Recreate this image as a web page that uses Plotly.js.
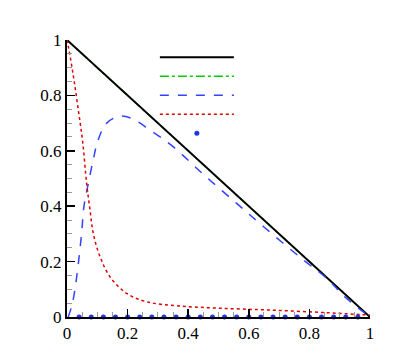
<!DOCTYPE html>
<html>
<head>
<meta charset="utf-8">
<script src="https://cdn.plot.ly/plotly-3.0.1.min.js"></script>
<style>
  html, body { margin: 0; padding: 0; background: #fff; }
  #chart { width: 407px; height: 362px; }
</style>
</head>
<body>
<div id="chart"></div>
<script>
// straight line (the green one lies underneath the black one)
const diagX = [0, 1];
const diagY = [1, 0];
const greenX = [0, 1];
const greenY = [1, 0];

// blue dashed curve
const blueX = [0.004, 0.018, 0.032, 0.048, 0.056, 0.07, 0.087, 0.103, 0.131, 0.175, 0.213, 0.274, 0.35, 0.45, 0.56, 0.65, 0.78, 0.857, 0.92, 1.0];
const blueY = [0, 0.05, 0.145, 0.30, 0.40, 0.48, 0.57, 0.64, 0.70, 0.725, 0.717, 0.675, 0.615, 0.515, 0.41, 0.325, 0.206, 0.14, 0.07, 0.0];

// red dotted curve
const redX = [0, 0.004, 0.021, 0.037, 0.052, 0.065, 0.076, 0.087, 0.109, 0.142, 0.197, 0.263, 0.367, 0.5, 0.67, 0.85, 1.0];
const redY = [1.0, 0.98, 0.87, 0.75, 0.63, 0.48, 0.386, 0.30, 0.218, 0.145, 0.085, 0.055, 0.04, 0.032, 0.025, 0.016, 0.007];

// blue dots along the bottom
const dotX = [0.04, 0.08, 0.12, 0.16, 0.2, 0.24, 0.28, 0.32, 0.36, 0.4, 0.44, 0.48, 0.52, 0.56, 0.6, 0.64, 0.68, 0.72, 0.76, 0.8, 0.84, 0.88, 0.92, 0.96];
const dotY = dotX.map(() => 0);

const traces = [
    {x: greenX, y: greenY, mode: 'lines', name: ' ', legendrank: 2, line: {color: '#00cc00', width: 1.5, dash: 'dashdot'}},
    {x: diagX, y: diagY, mode: 'lines', name: ' ', legendrank: 1, line: {color: '#000000', width: 2}},
    {x: blueX, y: blueY, mode: 'lines', name: ' ', legendrank: 3, line: {color: '#3344ff', width: 1.5, dash: 'dash', shape: 'spline'}},
    {x: redX, y: redY, mode: 'lines', name: ' ', legendrank: 4, line: {color: '#dd0000', width: 1.5, dash: 'dot', shape: 'spline'}},
    {x: dotX, y: dotY, mode: 'markers', name: ' ', legendrank: 5, cliponaxis: false, marker: {color: '#2233ee', size: 5}}
];

const axisBase = {
    range: [0, 1],
    dtick: 0.2,
    showgrid: false,
    zeroline: false,
    showline: true,
    linecolor: '#000',
    linewidth: 2,
    ticks: 'inside',
    ticklen: 8,
    tickwidth: 1.5,
    tickcolor: '#000',
    tickfont: {family: 'Liberation Serif', size: 17, color: '#000'},
    minor: {dtick: 0.05, ticks: 'inside', ticklen: 5, tickcolor: '#999', tickwidth: 1},
    fixedrange: true
};

Plotly.newPlot('chart', traces, {
    width: 407,
    height: 362,
    paper_bgcolor: '#fff',
    plot_bgcolor: '#fff',
    margin: {l: 67, r: 37, t: 40, b: 45},
    xaxis: {...axisBase},
    yaxis: {...axisBase},
    showlegend: true,
    legend: {
        x: 0.29, y: 0.99,
        xanchor: 'left', yanchor: 'top',
        bgcolor: 'rgba(0,0,0,0)',
        itemwidth: 74,
        tracegroupgap: 0,
        font: {family: 'Liberation Serif', size: 10}
    }
}, {displayModeBar: false, staticPlot: true});
</script>
</body>
</html>
